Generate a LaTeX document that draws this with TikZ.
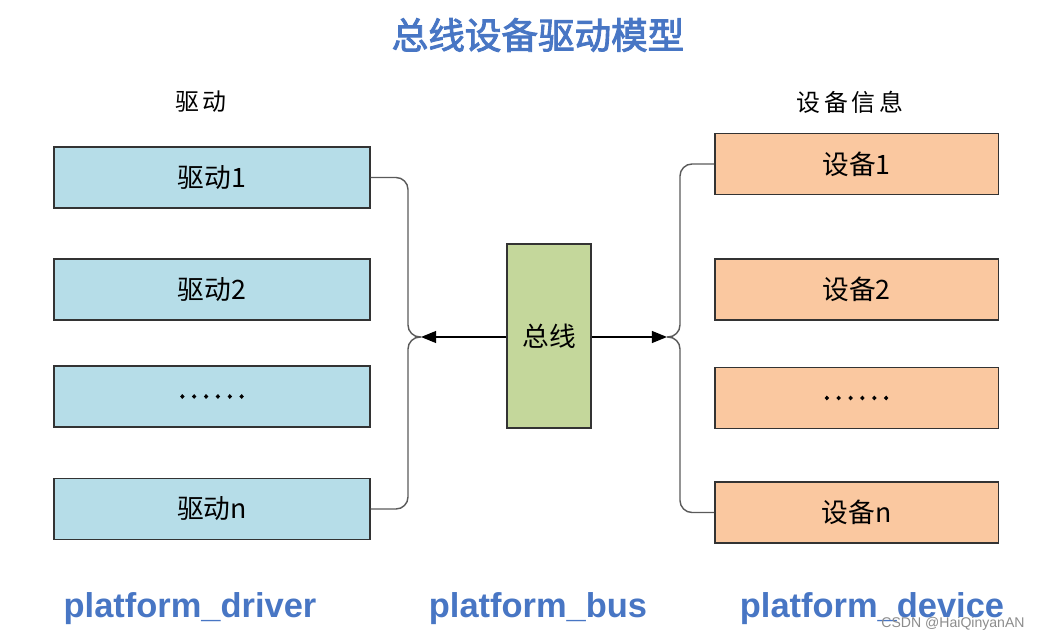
\documentclass[tikz,border=0pt]{standalone}
\usepackage{fontspec}
\setmainfont{Liberation Serif}
\newfontfamily\cjk[AutoFakeBold=2.5]{Noto Sans CJK SC}
\newfontfamily\latin{Liberation Sans}
\definecolor{drv_c}{RGB}{182,221,232}
\definecolor{dev_c}{RGB}{250,200,160}
\definecolor{bus_c}{RGB}{196,215,155}
\definecolor{title_c}{RGB}{72,118,196}
\definecolor{line_c}{RGB}{90,90,90}
\usetikzlibrary{arrows.meta,
                calc,
                positioning}

\begin{document}
\begin{tikzpicture}[
			x=0.025cm, y=-0.025cm,
			box/.style = {draw=black!80, line width=0.9pt, minimum width=7.9cm, minimum height=1.53cm,
			              font=\fontsize{19}{22}\selectfont\cjk},
			drv/.style = {box, fill=drv_c},
			dev/.style = {box, fill=dev_c, minimum width=7.08cm},
			wire/.style = {draw=line_c, line width=1pt, rounded corners=0.3cm},
			head/.style = {font=\fontsize{17}{20}\selectfont\cjk},
			foot/.style = {text=title_c, font=\fontsize{24.5}{29}\selectfont\latin\bfseries},
			]
			\useasboundingbox (0,0) rectangle (1045,642);
			% title
			\node[text=title_c, font=\fontsize{26}{31}\selectfont\cjk\bfseries] (title) at (538,35) {总线设备驱动模型};
			\node[head] (hdrv) at (201,102) {驱\,动};
			\node[head] (hdev) at (850,102) {设\,备\,信\,息};
			% drivers
			\node[drv] (d1) at (212,177.5) {驱动1};
			\node[drv] (d2) at (212,289.5) {驱动2};
			\node[drv] (d3) at (212,396.5) {\bfseries .\,.\,.\,.\,.\,.};
			\node[drv] (dn) at (212,509) {驱动n};
			% devices
			\node[dev] (v1) at (856.5,164) {设备1};
			\node[dev] (v2) at (856.5,289.5) {设备2};
			\node[dev] (v3) at (856.5,398) {\bfseries .\,.\,.\,.\,.\,.};
			\node[dev] (vn) at (856.5,512.5) {设备n};
			% bus
			\node[draw=black!80, line width=0.9pt, fill=bus_c, minimum width=2.1cm, minimum height=4.6cm,
			      font=\fontsize{19}{22}\selectfont\cjk] (bus) at (549,336) {总线};
			% joints
			\coordinate (jl) at (421,337);
			\coordinate (jr) at (667,337);
			\coordinate (bl) at (408,337);
			\coordinate (br) at (680,337);
			% edges
			\path[wire] (d1.east) -- (d1.east -| bl) -- (bl) -- (jl);
			\path[wire] (dn.east) -- (dn.east -| bl) -- (bl) -- (jl);
			\path[wire] (v1.west) -- (v1.west -| br) -- (br) -- (jr);
			\path[wire] (vn.west) -- (vn.west -| br) -- (br) -- (jr);
			\draw[line width=1pt, -{Triangle[length=0.38cm,width=0.3cm]}] (bus.west |- jl) -- (jl);
			\draw[line width=1pt, -{Triangle[length=0.38cm,width=0.3cm]}] (bus.east |- jr) -- (jr);
			% notes
			\node[foot] (fdrv) at (190,609) {platform\_driver};
			\node[foot] (fbus) at (538,609) {platform\_bus};
			\node[foot] (fdev) at (872,609) {platform\_device};
			\node[text=black!45, font=\fontsize{10}{12}\selectfont\latin] (mark) at (953,624) {CSDN @HaiQinyanAN};
		\end{tikzpicture}
\end{document}
